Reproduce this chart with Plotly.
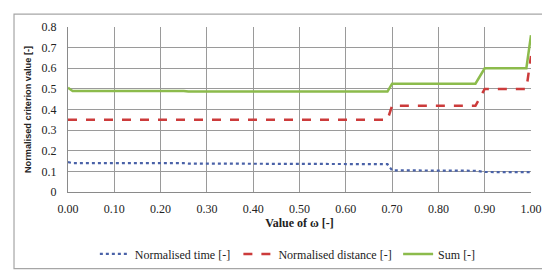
import plotly.graph_objects as go

# breakpoints along omega
omega = [0.00, 0.01, 0.25, 0.26, 0.69, 0.70, 0.88, 0.90, 0.99, 1.00]
norm_time = [0.145, 0.140, 0.140, 0.138, 0.135, 0.105, 0.103, 0.097, 0.096, 0.096]
norm_distance = [0.350, 0.350, 0.350, 0.350, 0.350, 0.418, 0.418, 0.500, 0.500, 0.660]
sum_values = [0.505, 0.490, 0.490, 0.487, 0.487, 0.525, 0.525, 0.600, 0.600, 0.760]

y_ticks = [0, 0.1, 0.2, 0.3, 0.4, 0.5, 0.6, 0.7, 0.8]
y_labels = ["0", "0.1", "0.2", "0.3", "0.4", "0.5", "0.6", "0.7", "0.8"]
x_ticks = [0.0, 0.1, 0.2, 0.3, 0.4, 0.5, 0.6, 0.7, 0.8, 0.9, 1.0]

serif = "Liberation Serif, Times New Roman, DejaVu Serif"
sans = "Liberation Sans, Arial"

fig = go.Figure()
fig.add_trace(go.Scatter(x=omega, y=norm_time, mode="lines", name="Normalised time [-]",
                         line=dict(color="#4a62a8", width=2.2, dash="dot"), legend="legend"))
fig.add_trace(go.Scatter(x=omega, y=norm_distance, mode="lines", name="Normalised distance [-]",
                         line=dict(color="#cc3b3b", width=2.5, dash="dash"), legend="legend2"))
fig.add_trace(go.Scatter(x=omega, y=sum_values, mode="lines", name="Sum [-]",
                         line=dict(color="#8cbb4c", width=2.5), legend="legend3"))

# outer chart border
fig.add_shape(type="rect", xref="paper", yref="paper",
              x0=-0.1166, x1=1.0475, y0=-0.464, y1=1.078,
              line=dict(color="#a6a6a6", width=1.2), layer="below")

legend_style = dict(orientation="h", y=-0.367, yanchor="middle", xanchor="left",
                    font=dict(family=serif, size=12), bgcolor="rgba(0,0,0,0)")

fig.update_layout(
    width=550, height=271,
    margin=dict(l=60, r=27, t=19, b=86),
    paper_bgcolor="white", plot_bgcolor="white",
    font=dict(family=serif, size=12, color="#222222"),
    showlegend=True,
    legend=dict(x=0.058, **legend_style),
    legend2=dict(x=0.368, **legend_style),
    legend3=dict(x=0.713, **legend_style),
)
fig.update_xaxes(
    range=[0, 1], tickvals=x_ticks, tickformat=".2f",
    showgrid=True, gridcolor="#9a9a9a", gridwidth=1,
    showline=True, linecolor="#8a8a8a", linewidth=1, mirror=False,
    ticks="outside", ticklen=6, tickcolor="rgba(0,0,0,0)", zeroline=False,
    tickfont=dict(family=serif, size=12),
    title=dict(text="<b>Value of \u03c9 [-]</b>", font=dict(family=serif, size=12), standoff=2),
)
fig.update_yaxes(
    range=[0, 0.8], tickvals=y_ticks, ticktext=y_labels,
    showgrid=True, gridcolor="#9a9a9a", gridwidth=1,
    showline=True, linecolor="#8a8a8a", linewidth=1,
    ticks="outside", ticklen=8, tickcolor="rgba(0,0,0,0)", zeroline=False,
    tickfont=dict(family=serif, size=12),
    title=dict(text="<b>Normalised criterion value [-]</b>",
               font=dict(family=sans, size=9.2), standoff=8),
)

fig.write_html("out.html")
